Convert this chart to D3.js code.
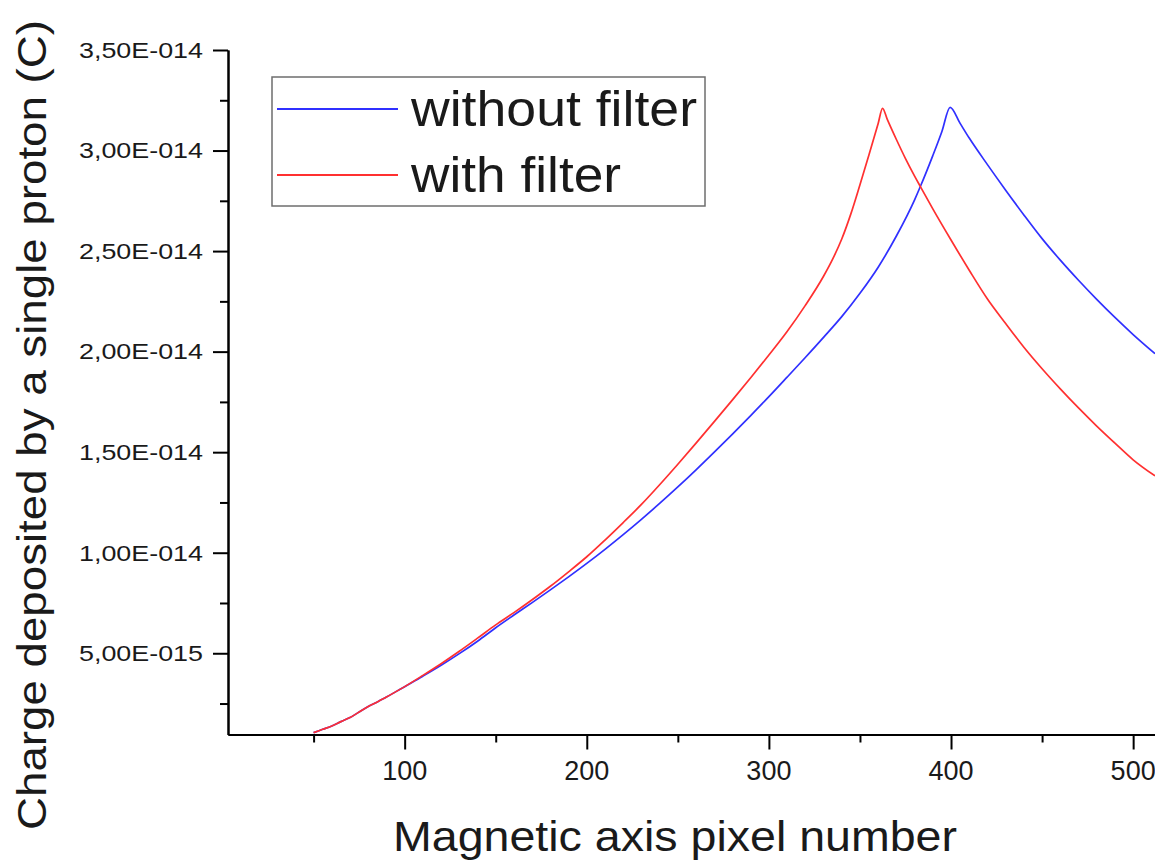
<!DOCTYPE html>
<html><head><meta charset="utf-8">
<script src="https://cdn.jsdelivr.net/npm/d3@7"></script>
<style>
html,body{margin:0;padding:0;background:#fff;}
svg{display:block;}
text{font-family:"Liberation Sans",Arial,sans-serif;fill:#1a1a1a;}
</style></head>
<body>
<svg id="chart" width="1155" height="864"></svg>
<script>
// ---- data (charge in fC = 1E-015 C) ----
const seriesNames = ["without filter", "with filter"];
const seriesColors = ["#3030ff", "#ff3030"];

const pixelWithout = [50, 55, 60, 65, 70, 75, 80, 85, 90, 95, 100, 110, 120, 130, 140, 150, 160, 170, 180, 190, 200, 210, 220, 230, 240, 250, 260, 270, 280, 290, 300, 310, 320, 330, 340, 350, 360, 370, 380, 383.1, 390, 395, 399.5, 405, 410, 420, 430, 440, 450, 460, 470, 480, 490, 500, 512];
const chargeWithout = [1.05, 1.22, 1.38, 1.6, 1.8, 2.08, 2.35, 2.58, 2.82, 3.08, 3.34, 3.86, 4.4, 4.98, 5.6, 6.27, 6.9, 7.52, 8.15, 8.8, 9.47, 10.17, 10.9, 11.66, 12.45, 13.27, 14.12, 15.0, 15.9, 16.82, 17.76, 18.73, 19.71, 20.71, 21.74, 22.9, 24.2, 25.75, 27.55, 28.2, 29.75, 30.95, 32.15, 31.35, 30.62, 29.3, 28.03, 26.8, 25.62, 24.55, 23.55, 22.6, 21.7, 20.85, 19.9];

const pixelWith = [50, 55, 60, 65, 70, 75, 80, 85, 90, 95, 100, 110, 120, 130, 140, 150, 160, 170, 180, 190, 200, 210, 220, 230, 240, 250, 260, 270, 280, 290, 300, 310, 320, 330, 335, 340, 345, 350, 355, 360, 362.4, 365, 370, 375, 380, 383.1, 390, 400, 410, 420, 430, 440, 450, 460, 470, 480, 490, 500, 512];
const chargeWith = [1.05, 1.22, 1.38, 1.6, 1.8, 2.08, 2.35, 2.58, 2.82, 3.08, 3.34, 3.9, 4.48, 5.1, 5.75, 6.41, 7.02, 7.66, 8.33, 9.05, 9.8, 10.63, 11.5, 12.4, 13.38, 14.4, 15.45, 16.52, 17.6, 18.7, 19.83, 21.0, 22.3, 23.75, 24.6, 25.6, 26.85, 28.3, 29.8, 31.35, 32.1, 31.55, 30.55, 29.6, 28.73, 28.22, 27.1, 25.55, 24.05, 22.62, 21.4, 20.22, 19.15, 18.15, 17.2, 16.3, 15.45, 14.62, 13.82];

const xMajorTicks = [100, 200, 300, 400, 500];
const xMajorLabels = ["100", "200", "300", "400", "500"];
const xMinorTicks = [50, 150, 250, 350, 450];
const yMajorTicks = [5, 10, 15, 20, 25, 30, 35];
const yMajorLabels = ["5,00E-015", "1,00E-014", "1,50E-014", "2,00E-014", "2,50E-014", "3,00E-014", "3,50E-014"];
const yMinorTicks = [2.5, 7.5, 12.5, 17.5, 22.5, 27.5, 32.5];
const xTitle = "Magnetic axis pixel number";
const yTitle = "Charge deposited by a single proton (C)";

// ---- drawing ----
const svg = d3.select("#chart");
const x = d3.scaleLinear().domain([3, 512]).range([228, 1155]);
const y = d3.scaleLinear().domain([0.96, 35]).range([734.5, 50]);

const series = [
  {name: seriesNames[0], color: seriesColors[0], xs: pixelWithout, ys: chargeWithout},
  {name: seriesNames[1], color: seriesColors[1], xs: pixelWith, ys: chargeWith}
];

const line = d3.line().x(d => x(d[0])).y(d => y(d[1])).curve(d3.curveMonotoneX);
series.forEach(s => {
  const pts = s.xs.map((v, i) => [v, s.ys[i]]);
  svg.append("path").attr("d", line(pts)).attr("fill", "none")
    .attr("stroke", s.color).attr("stroke-width", 1.7).attr("stroke-linejoin", "round");
});

// axes
function styleAxis(g) {
  g.select(".domain").attr("stroke", "#000").attr("stroke-width", 2);
  g.selectAll(".tick line").attr("stroke", "#000").attr("stroke-width", 2);
  g.selectAll(".tick text").remove();
}
const yMinor = svg.append("g").attr("transform", "translate(228,0)")
  .call(d3.axisLeft(y).tickValues(yMinorTicks).tickSize(8).tickSizeOuter(0).tickFormat(""));
styleAxis(yMinor);
const yMajor = svg.append("g").attr("transform", "translate(228,0)")
  .call(d3.axisLeft(y).tickValues(yMajorTicks).tickSize(15).tickSizeOuter(0).tickFormat(""));
styleAxis(yMajor);
const xMinor = svg.append("g").attr("transform", "translate(0,734.5)")
  .call(d3.axisBottom(x).tickValues(xMinorTicks).tickSize(8).tickSizeOuter(0).tickFormat(""));
styleAxis(xMinor);
const xMajor = svg.append("g").attr("transform", "translate(0,734.5)")
  .call(d3.axisBottom(x).tickValues(xMajorTicks).tickSize(15).tickSizeOuter(0).tickFormat(""));
styleAxis(xMajor);

// tick labels
yMajorTicks.forEach((v, i) => {
  svg.append("text").attr("x", 203).attr("y", y(v) + 7.8)
    .attr("text-anchor", "end").attr("font-size", 22)
    .attr("textLength", 124).attr("lengthAdjust", "spacingAndGlyphs")
    .text(yMajorLabels[i]);
});
xMajorTicks.forEach((v, i) => {
  svg.append("text").attr("x", x(v)).attr("y", 780)
    .attr("text-anchor", "middle").attr("font-size", 27)
    .text(xMajorLabels[i]);
});

// axis titles
svg.append("text").attr("x", 675).attr("y", 851)
  .attr("text-anchor", "middle").attr("font-size", 42)
  .attr("textLength", 564).attr("lengthAdjust", "spacingAndGlyphs")
  .text(xTitle);
svg.append("text").attr("transform", "translate(46,425) rotate(-90)")
  .attr("text-anchor", "middle").attr("font-size", 40)
  .attr("textLength", 810).attr("lengthAdjust", "spacingAndGlyphs")
  .text(yTitle);

// legend
const lg = svg.append("g");
lg.append("rect").attr("x", 272).attr("y", 77).attr("width", 433).attr("height", 129)
  .attr("fill", "#fff").attr("stroke", "#6e6e6e").attr("stroke-width", 1.5);
const legendRows = [109, 175];
const legendTextW = [286, 210];
series.forEach((s, i) => {
  lg.append("line").attr("x1", 277).attr("x2", 398)
    .attr("y1", legendRows[i]).attr("y2", legendRows[i])
    .attr("stroke", s.color).attr("stroke-width", 2);
  lg.append("text").attr("x", 411).attr("y", legendRows[i] + 17)
    .attr("font-size", 50)
    .attr("textLength", legendTextW[i]).attr("lengthAdjust", "spacingAndGlyphs")
    .text(s.name);
});
</script>
</body></html>
